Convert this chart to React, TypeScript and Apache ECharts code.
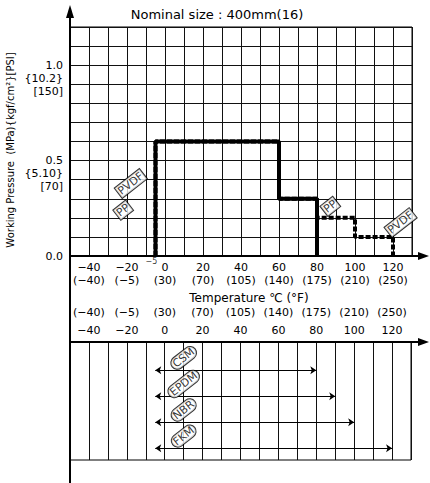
import React, { useEffect, useRef } from 'react';
import * as echarts from 'echarts';

// ---- data ----
const tempTicksC = [-40, -20, 0, 20, 40, 60, 80, 100, 120];
const tempTicksF = ['−40', '−5', '30', '70', '105', '140', '175', '210', '250'];

const pressureTicks = [0, 0.5, 1.0];
const pressureMPa = ['0.0', '0.5', '1.0'];
const pressureKgf = ['', '{5.10}', '{10.2}'];
const pressurePsi = ['', '[70]', '[150]'];

const ppTemp = [-5, -5, 60, 60, 80, 80];
const ppPressure = [0, 0.6, 0.6, 0.3, 0.3, 0];
const pvdfTemp = [-5, -5, 60, 60, 80, 80, 100, 100, 120, 120];
const pvdfPressure = [0, 0.6, 0.6, 0.3, 0.3, 0.2, 0.2, 0.1, 0.1, 0];

const tagNames = ['PVDF', 'PP', 'PP', 'PVDF'];
const tagTemp = [-18, -22, 87, 124];
const tagPressure = [0.38, 0.24, 0.26, 0.175];

const materials = ['CSM', 'EPDM', 'NBR', 'FKM'];
const materialMin = [-5, -5, -5, -5];
const materialMax = [80, 90, 100, 120];
const materialTagTemp = [10, 10, 10, 10];

// ---- layout ----
const FONT = 'DejaVu Sans';
const LEFT = 70;
const RIGHT_X = 412;
const TOP = 27;
const AXIS_Y = 256;
const LOWER_TOP = 342;
const LOWER_BOTTOM = 460;

const fmt = (v: number) => (v < 0 ? '−' + Math.abs(v) : String(v));

export default function App() {
  const ref = useRef<HTMLDivElement>(null);
  useEffect(() => {
    if (!ref.current) return;
    const chart = echarts.init(ref.current, undefined, { renderer: 'svg' });
    const upperX = (v: number) => {
      const i = tempTicksC.indexOf(Math.round(v));
      if (i < 0) return '';
      return fmt(tempTicksC[i]) + '\n(' + tempTicksF[i] + ')';
    };
    const lowerX = (v: number) => {
      const i = tempTicksC.indexOf(Math.round(v));
      if (i < 0) return '';
      return '(' + tempTicksF[i] + ')\n' + fmt(tempTicksC[i]);
    };
    const yLab = (v: number) => {
      const i = pressureTicks.findIndex((t) => Math.abs(t - v) < 1e-6);
      if (i < 0) return '';
      if (!pressureKgf[i]) return pressureMPa[i];
      return '\n\n' + pressureMPa[i] + '\n' + pressureKgf[i] + '\n' + pressurePsi[i];
    };
    const black = '#000';
    chart.setOption({
      animation: false,
      textStyle: { fontFamily: FONT },
      grid: [
        { left: LEFT, top: TOP, width: RIGHT_X - LEFT, height: AXIS_Y - TOP, show: true, borderColor: black, borderWidth: 1 },
        { left: LEFT, top: LOWER_TOP, width: RIGHT_X - LEFT - 1, height: LOWER_BOTTOM - LOWER_TOP, show: true, borderColor: black, borderWidth: 1 },
      ],
      xAxis: [
        {
          gridIndex: 0, type: 'value', min: -50, max: 130, interval: 10,
          axisLine: { show: true, onZero: false, lineStyle: { color: black, width: 2 } },
          axisTick: { show: false },
          splitLine: { show: true, lineStyle: { color: '#111', width: 1 } },
          axisLabel: { formatter: upperX, color: black, fontSize: 11, lineHeight: 13, margin: 5, fontFamily: FONT },
        },
        {
          gridIndex: 1, type: 'value', position: 'top', min: -50, max: 130, interval: 10,
          axisLine: { show: true, onZero: false, lineStyle: { color: black, width: 2 } },
          axisTick: { show: false },
          splitLine: { show: true, lineStyle: { color: '#111', width: 1 } },
          axisLabel: { formatter: lowerX, color: black, fontSize: 11, lineHeight: 18, margin: 3, fontFamily: FONT },
        },
      ],
      yAxis: [
        {
          gridIndex: 0, type: 'value', min: 0, max: 1.2, interval: 0.1,
          axisLine: { show: false }, axisTick: { show: false },
          splitLine: { show: true, lineStyle: { color: '#111', width: 1 } },
          axisLabel: { formatter: yLab, color: black, fontSize: 11, lineHeight: 13, margin: 7, fontFamily: FONT, showMinLabel: true, showMaxLabel: true },
        },
        { gridIndex: 1, type: 'value', min: -0.08, max: 4.45, inverse: true, show: false, splitLine: { show: false } },
      ],
      series: [
        {
          type: 'line', name: 'PVDF', xAxisIndex: 0, yAxisIndex: 0, symbol: 'none',
          data: pvdfTemp.map((t, i) => [t, pvdfPressure[i]]),
          lineStyle: { color: black, width: 4, type: [5, 2] }, z: 3,
        },
        {
          type: 'line', name: 'PP', xAxisIndex: 0, yAxisIndex: 0, symbol: 'none',
          data: ppTemp.map((t, i) => [t, ppPressure[i]]),
          lineStyle: { color: black, width: 4 }, z: 4,
        },
        {
          type: 'scatter', xAxisIndex: 0, yAxisIndex: 0, symbolSize: 1, silent: true,
          itemStyle: { color: 'rgba(0,0,0,0)' }, z: 6,
          data: tagNames.map((n, i) => ({ name: n, value: [tagTemp[i], tagPressure[i]] })),
          label: {
            show: true, position: 'inside', formatter: '{b}', rotate: 38, color: black, fontSize: 11,
            fontFamily: FONT, backgroundColor: '#fff', borderColor: black, borderWidth: 1, padding: [1, 1, 0, 1],
          },
        },
        {
          type: 'scatter', xAxisIndex: 0, yAxisIndex: 0, symbolSize: 1, silent: true,
          itemStyle: { color: 'rgba(0,0,0,0)' },
          data: [{ name: '−5', value: [-5, 0] }],
          label: { show: true, position: 'bottom', distance: 1, offset: [-4, 0], formatter: '{b}', color: black, fontSize: 8, fontFamily: FONT },
        },
        {
          type: 'lines', coordinateSystem: 'cartesian2d', xAxisIndex: 1, yAxisIndex: 1, silent: true,
          symbol: ['arrow', 'arrow'], symbolSize: 6,
          lineStyle: { color: black, width: 1, opacity: 1 },
          data: materials.map((m, i) => ({ name: m, coords: [[materialMin[i], i + 1], [materialMax[i], i + 1]] })),
        },
        {
          type: 'scatter', xAxisIndex: 1, yAxisIndex: 1, symbolSize: 1, silent: true,
          itemStyle: { color: 'rgba(0,0,0,0)' }, z: 6,
          data: materials.map((m, i) => ({ name: m, value: [materialTagTemp[i], i + 1 - 0.47] })),
          label: {
            show: true, position: 'inside', formatter: '{b}', rotate: 38, color: black, fontSize: 11,
            fontFamily: FONT, backgroundColor: '#fff', borderColor: black, borderWidth: 1, borderRadius: 8, padding: [1, 2, 0, 2],
          },
        },
      ],
      graphic: [
        { type: 'text', x: 217, y: 14, z: 100, style: { text: 'Nominal size : 400mm(16)', fill: black, fontSize: 13, fontFamily: FONT, align: 'center', verticalAlign: 'middle' } },
        { type: 'text', x: 10, y: 150, rotation: Math.PI / 2, z: 100, style: { text: 'Working Pressure  (MPa){kgf/cm²}[PSI]', fill: black, fontSize: 10, fontFamily: FONT, align: 'center', verticalAlign: 'middle' } },
        { type: 'text', x: 249, y: 298, z: 100, style: { text: 'Temperature ℃ (°F)', fill: black, fontSize: 12, fontFamily: FONT, align: 'center', verticalAlign: 'middle' } },
        { type: 'line', z: 100, shape: { x1: LEFT, y1: 483, x2: LEFT, y2: 16 }, style: { stroke: black, lineWidth: 2 } },
        { type: 'polygon', z: 100, shape: { points: [[LEFT - 4, 18], [LEFT, 5], [LEFT + 4, 18]] }, style: { fill: black } },
        { type: 'line', z: 100, shape: { x1: LEFT, y1: AXIS_Y, x2: 420, y2: AXIS_Y }, style: { stroke: black, lineWidth: 2 } },
        { type: 'polygon', z: 100, shape: { points: [[418, AXIS_Y - 4], [429, AXIS_Y], [418, AXIS_Y + 4]] }, style: { fill: black } },
        { type: 'line', z: 100, shape: { x1: LEFT, y1: LOWER_TOP, x2: 420, y2: LOWER_TOP }, style: { stroke: black, lineWidth: 2 } },
        { type: 'polygon', z: 100, shape: { points: [[418, LOWER_TOP - 4], [429, LOWER_TOP], [418, LOWER_TOP + 4]] }, style: { fill: black } },
      ],
    });
    return () => chart.dispose();
  }, []);
  return <div ref={ref} style={{ position: 'fixed', left: 0, top: 0, width: 430, height: 483, background: '#fff' }} />;
}
